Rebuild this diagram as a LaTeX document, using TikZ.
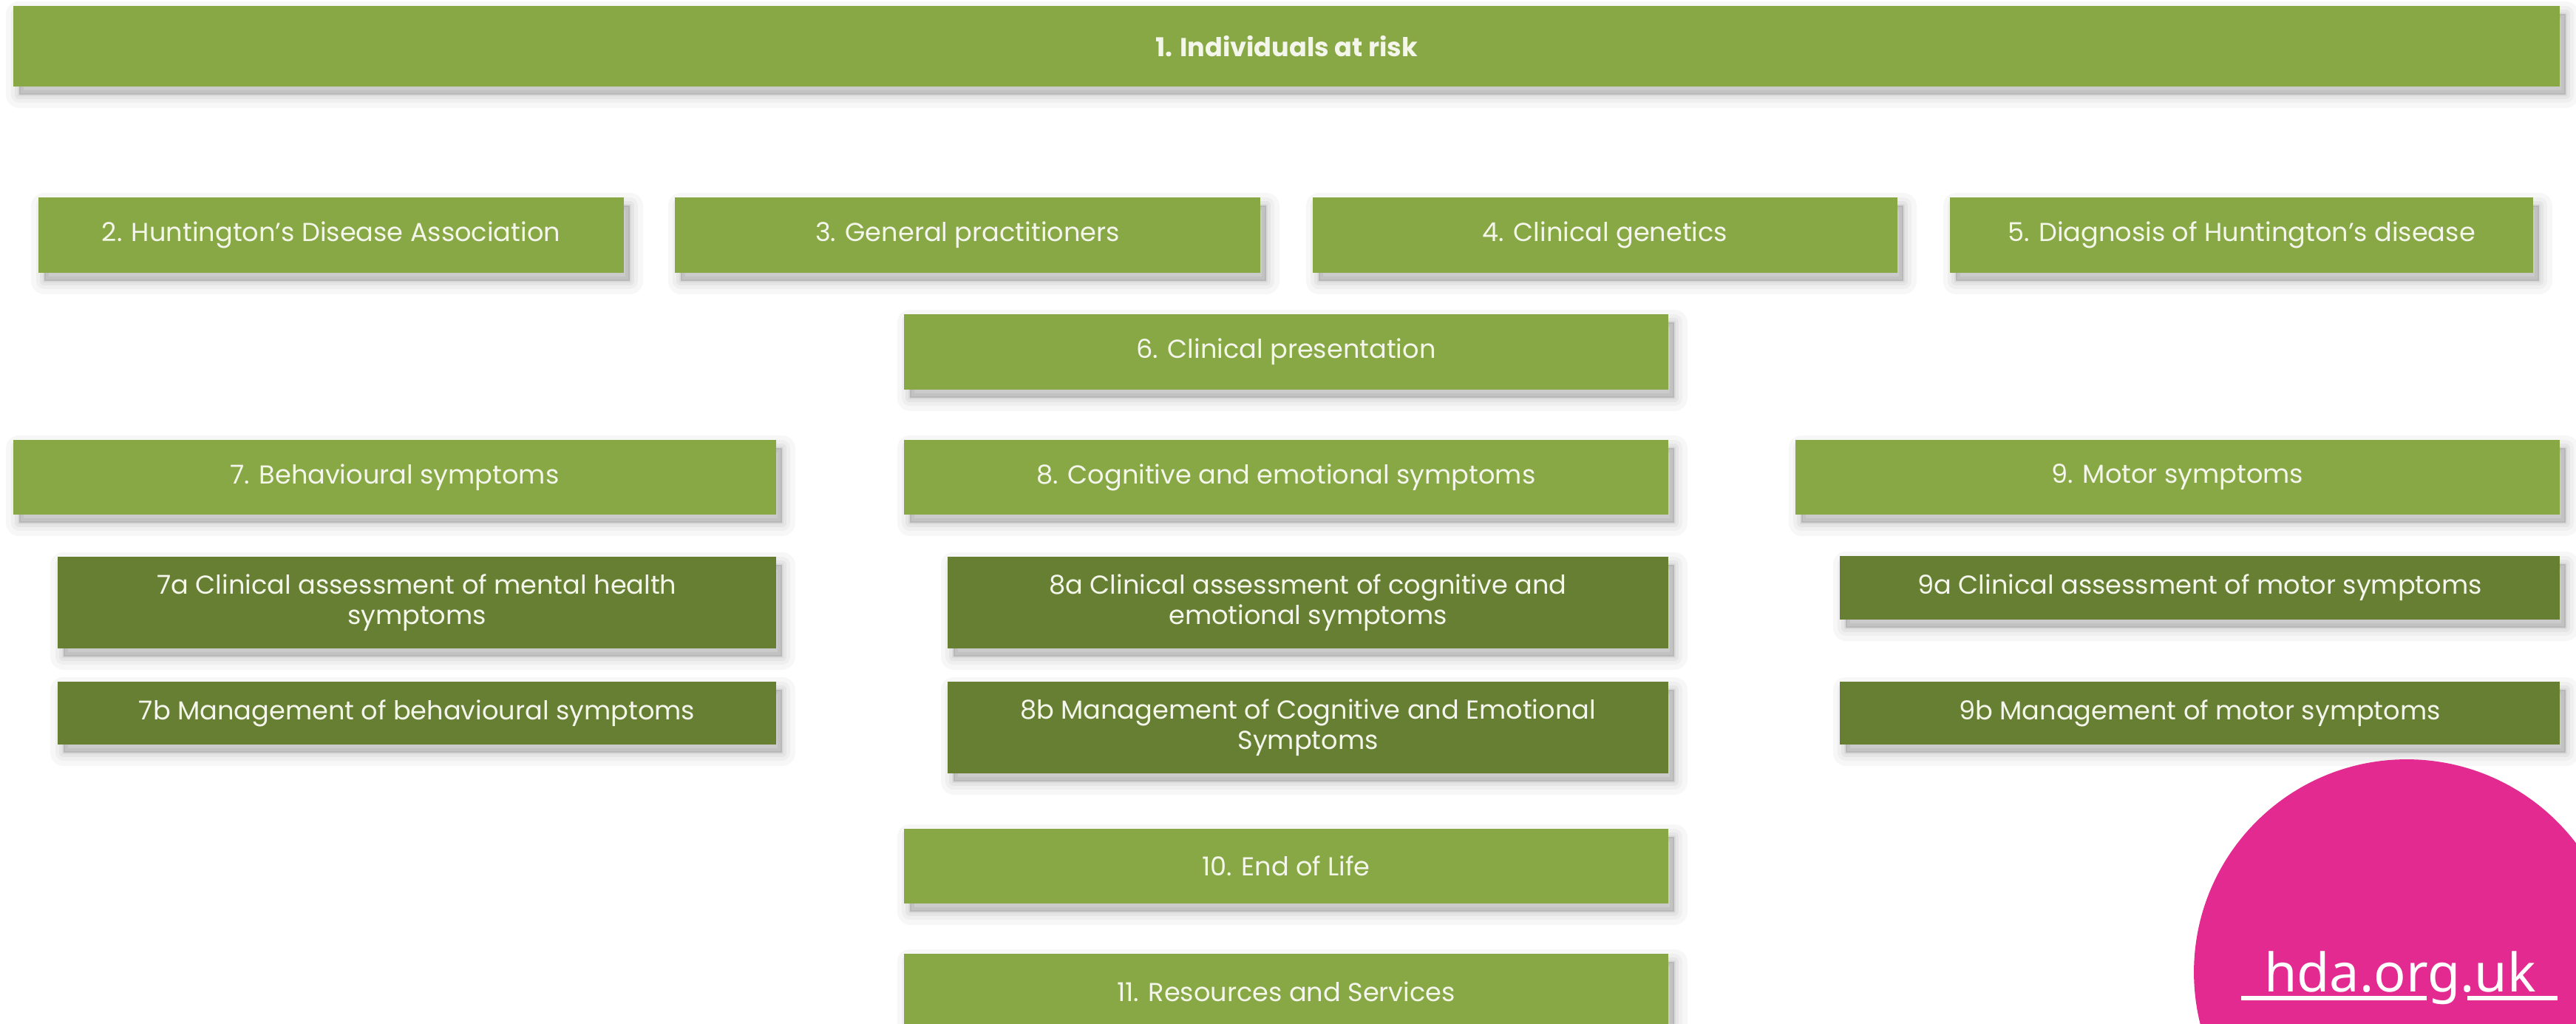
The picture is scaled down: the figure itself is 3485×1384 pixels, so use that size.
\documentclass[tikz,border=0pt]{standalone}
\usepackage{fontspec}
\setmainfont{Poppins}
\newfontfamily\logofont{Noto Sans}
\usetikzlibrary{backgrounds}
\definecolor{lightgreen}{HTML}{88A845}
\definecolor{darkgreen}{HTML}{677F33}
\definecolor{linkgrey}{HTML}{A8A295}
\definecolor{hdapink}{HTML}{E32A90}
\definecolor{boxtext}{HTML}{F4F6EC}
\newcommand{\shadowlayer}[1]{preaction={fill=black,fill opacity=.035,draw=black,draw opacity=.035,line join=round,line width=#1,transform canvas={shift={(.14cm,-.2cm)}}}}
\tikzset{
  softshadow/.style={
    preaction={fill=black,fill opacity=.03,draw=black,draw opacity=.03,line join=round,line width=.7cm,transform canvas={shift={(.16cm,-.22cm)}}},
    preaction={fill=black,fill opacity=.03,draw=black,draw opacity=.03,line join=round,line width=.45cm,transform canvas={shift={(.16cm,-.22cm)}}},
    preaction={fill=black,fill opacity=.04,draw=black,draw opacity=.04,line join=round,line width=.25cm,transform canvas={shift={(.16cm,-.22cm)}}},
    preaction={fill=black,fill opacity=.05,draw=black,draw opacity=.05,line join=round,line width=.08cm,transform canvas={shift={(.16cm,-.22cm)}}}},
  basebox/.style={rectangle,inner sep=0pt,outer sep=0pt,align=center,text=boxtext,font=\fontsize{20}{23}\selectfont,softshadow},
  mainbox/.style={basebox,fill=lightgreen},
  subbox/.style={basebox,fill=darkgreen},
  link/.style={draw=linkgrey,line width=.17cm,line cap=butt,line join=miter},
}
\newcommand{\bx}[7]{%
  \pgfmathsetmacro{\cx}{(#3+#5)/2}\pgfmathsetmacro{\cy}{(#4+#6)/2}%
  \pgfmathsetmacro{\ww}{(#5-#3)*0.02}\pgfmathsetmacro{\hh}{(#6-#4)*0.02}%
  \node[#2,minimum width=\ww cm,minimum height=\hh cm] (#1) at (\cx,\cy) {#7};}
\begin{document}
\begin{tikzpicture}[x=0.02cm,y=-0.02cm]
\useasboundingbox (0,0) rectangle (3485,1384);
\clip (0,0) rectangle (3485,1384);
\fill[white] (0,0) rectangle (3485,1384);
% boxes
\bx{b1}{mainbox}{18}{8}{3463}{117}{\textbf{1. Individuals at risk}}
\bx{b2}{mainbox}{52}{267}{844}{369}{2. Huntington's Disease Association}
\bx{b3}{mainbox}{913}{267}{1705}{369}{3. General practitioners}
\bx{b4}{mainbox}{1776}{267}{2567}{369}{4. Clinical genetics}
\bx{b5}{mainbox}{2638}{267}{3427}{369}{5. Diagnosis of Huntington's disease}
\bx{b6}{mainbox}{1223}{425}{2257}{527}{6. Clinical presentation}
\bx{b7}{mainbox}{18}{595}{1050}{696}{7. Behavioural symptoms}
\bx{b8}{mainbox}{1223}{595}{2257}{696}{8. Cognitive and emotional symptoms}
\bx{b9}{mainbox}{2429}{595}{3463}{696}{9. Motor symptoms}
\bx{b7a}{subbox}{78}{753}{1050}{877}{7a Clinical assessment of mental health\\symptoms}
\bx{b7b}{subbox}{78}{922}{1050}{1007}{7b Management of behavioural symptoms}
\bx{b8a}{subbox}{1282}{753}{2257}{877}{8a Clinical assessment of cognitive and\\emotional symptoms}
\bx{b8b}{subbox}{1282}{922}{2257}{1046}{8b Management of Cognitive and Emotional\\Symptoms}
\bx{b9a}{subbox}{2489}{752}{3463}{838}{9a Clinical assessment of motor symptoms}
\bx{b9b}{subbox}{2489}{922}{3463}{1007}{9b Management of motor symptoms}
\bx{b10}{mainbox}{1223}{1121}{2257}{1222}{10. End of Life}
\bx{b11}{mainbox}{1223}{1290}{2257}{1392}{11. Resources and Services}
% routing points
\coordinate (bus) at (1745,210);
\coordinate (c2) at (280,210);
\coordinate (c3) at (1311,210);
\coordinate (c4) at (2174,210);
\coordinate (c5) at (3200,210);
\coordinate (r5) at (3229,471);
\coordinate (mid) at (1710,0);
\coordinate (t7) at (22,805);
\coordinate (t8) at (1228,805);
\coordinate (t9) at (2433,805);
\coordinate (e7) at (22,974);
\coordinate (e8) at (1228,974);
\coordinate (e9) at (2433,974);
\coordinate (h78) at (0,654);
\begin{scope}[on background layer]
\draw[link] (b1.south -| bus) -- (bus);
\draw[link] (b2.north -| c2) -- (c2) -- (c5) -- (b5.north -| c5);
\draw[link] (b3.north -| c3) -- (c3);
\draw[link] (b4.north -| c4) -- (c4);
\draw[link] (b5.south -| r5) -- (r5) -- (b6.east |- r5);
\draw[link] (b6.south -| mid) -- (b8.north -| mid);
\draw[link] (b8.south -| mid) -- (b8a.north -| mid);
\draw[link] (b8a.south -| mid) -- (b8b.north -| mid);
\draw[link] (b8b.south -| mid) -- (b10.north -| mid);
\draw[link] (b10.south -| mid) -- (b11.north -| mid);
\draw[link] (b7.east |- h78) -- (b8.west |- h78);
\draw[link] (b8.east |- h78) -- (b9.west |- h78);
\draw[link] (b7.south -| t7) -- (e7) -- (b7b.west |- e7);
\draw[link] (t7) -- (b7a.west |- t7);
\draw[link] (b8.south -| t8) -- (e8) -- (b8b.west |- e8);
\draw[link] (t8) -- (b8a.west |- t8);
\draw[link] (b9.south -| t9) -- (e9) -- (b9b.west |- e9);
\draw[link] (t9) -- (b9a.west |- t9);
\end{scope}
% logo
\node[circle,fill=hdapink,inner sep=0pt,minimum size=11.52cm] (blob) at (3256,1315) {};
\node[anchor=base,text=white,inner sep=0pt,font=\logofont\bfseries\fontsize{41}{41}\selectfont] (hda) at (3247,1341) {hda.org.uk};
\coordinate (ua) at (3032,1350);
\coordinate (ub) at (3283,1350);
\coordinate (uc) at (3338,1350);
\coordinate (ud) at (3460,1350);
\draw[white,line width=.13cm] (ua) -- (ub) (uc) -- (ud);
\end{tikzpicture}
\end{document}
